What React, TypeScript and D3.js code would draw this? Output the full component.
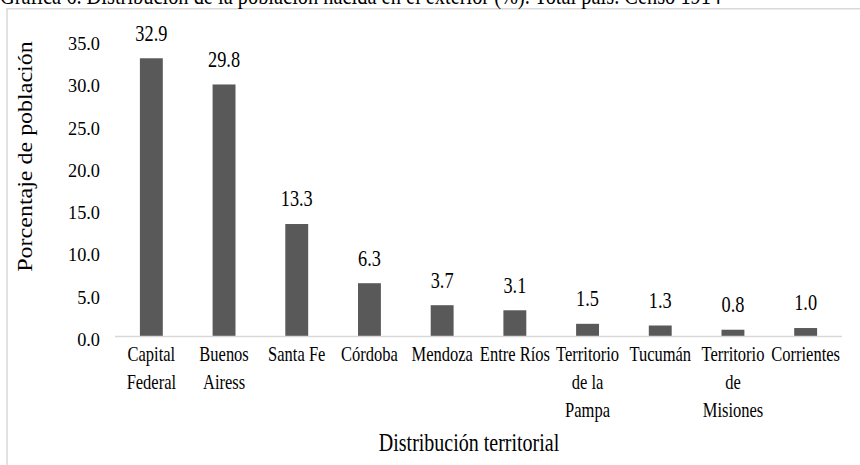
import React, { useEffect, useRef } from 'react';
import * as d3 from 'd3';

const title = 'Gráfica 6. Distribución de la población nacida en el exterior (%). Total país. Censo 1914';
const categories = [
  'Capital Federal',
  'Buenos Airess',
  'Santa Fe',
  'Córdoba',
  'Mendoza',
  'Entre Ríos',
  'Territorio de la Pampa',
  'Tucumán',
  'Territorio de Misiones',
  'Corrientes'
];
const values = [32.9, 29.8, 13.3, 6.3, 3.7, 3.1, 1.5, 1.3, 0.8, 1.0];
const yTicks = [0, 5, 10, 15, 20, 25, 30, 35];
const yTitle = 'Porcentaje de población';
const xTitle = 'Distribución territorial';

const W = 860;
const H = 465;
const FONT = '"Liberation Serif", "Times New Roman", serif';

const App: React.FC = () => {
  const svgRef = useRef<SVGSVGElement>(null);

  useEffect(() => {
    if (!svgRef.current) return;
    const svg = d3.select(svgRef.current);
    svg.selectAll('*').remove();

    const plot = { left: 115, right: 842, top: 40.5, bottom: 336.5 };

    const x = d3.scaleBand<string>()
      .domain(categories)
      .range([plot.left, plot.right])
      .paddingInner(0.685)
      .paddingOuter(0.3425);

    const y = d3.scaleLinear()
      .domain([0, 35])
      .range([plot.bottom, plot.top]);

    // stretched text helper (source image is a bit taller than wide)
    const label = (tx: number, ty: number, size: number, sy: number, anchor: string, str: string) =>
      svg.append('text')
        .attr('transform', `translate(${tx},${ty}) scale(1,${sy})`)
        .attr('text-anchor', anchor)
        .style('font-family', FONT)
        .style('font-size', `${size}px`)
        .attr('fill', '#000')
        .text(str);

    // chart frame
    svg.append('rect')
      .attr('x', 7)
      .attr('y', 8.75)
      .attr('width', W)
      .attr('height', H)
      .attr('fill', '#fff')
      .attr('stroke', '#d9d9d9')
      .attr('stroke-width', 1.5);

    // title (cut off at the top, as in the source)
    label(0, 4, 20.4, 1.25, 'start', title);

    // bars
    svg.selectAll('.bar')
      .data(values)
      .enter()
      .append('rect')
      .attr('x', (d, i) => x(categories[i])!)
      .attr('y', d => y(d))
      .attr('width', x.bandwidth())
      .attr('height', d => y(0) - y(d))
      .attr('fill', '#595959');

    // baseline
    svg.append('line')
      .attr('x1', plot.left)
      .attr('x2', plot.right)
      .attr('y1', y(0))
      .attr('y2', y(0))
      .attr('stroke', '#d9d9d9')
      .attr('stroke-width', 1.5);

    // value labels
    values.forEach((v, i) => {
      label(x(categories[i])! + x.bandwidth() / 2, y(v) - 17.6, 18.3, 1.27, 'middle', v.toFixed(1));
    });

    // y tick labels
    yTicks.forEach(t => {
      label(100, y(t) + 9.5, 18.3, 1.07, 'end', t.toFixed(1));
    });

    // category labels, wrapped to the band step
    const maxW = x.step() - 1;
    categories.forEach(c => {
      const cx = x(c)! + x.bandwidth() / 2;
      const probe = svg.append('text')
        .style('font-family', FONT)
        .style('font-size', '16.5px');
      const words = c.split(' ');
      const lines: string[] = [];
      let cur = '';
      words.forEach(w => {
        const test = cur ? `${cur} ${w}` : w;
        probe.text(test);
        if ((probe.node() as SVGTextElement).getComputedTextLength() > maxW && cur) {
          lines.push(cur);
          cur = w;
        } else {
          cur = test;
        }
      });
      if (cur) lines.push(cur);
      probe.remove();
      lines.forEach((ln, j) => {
        label(cx, 361 + j * 28, 16.5, 1.3, 'middle', ln);
      });
    });

    // axis titles
    label(469, 451, 20, 1.25, 'middle', xTitle);

    svg.append('text')
      .attr('transform', `translate(32,156.5) rotate(-90) scale(1.2,1)`)
      .attr('text-anchor', 'middle')
      .style('font-family', FONT)
      .style('font-size', '20px')
      .attr('fill', '#000')
      .text(yTitle);
  }, []);

  return (
    <svg
      ref={svgRef}
      width={W}
      height={H}
      style={{ position: 'fixed', left: 0, top: 0, background: '#fff' }}
    />
  );
};

export default App;
